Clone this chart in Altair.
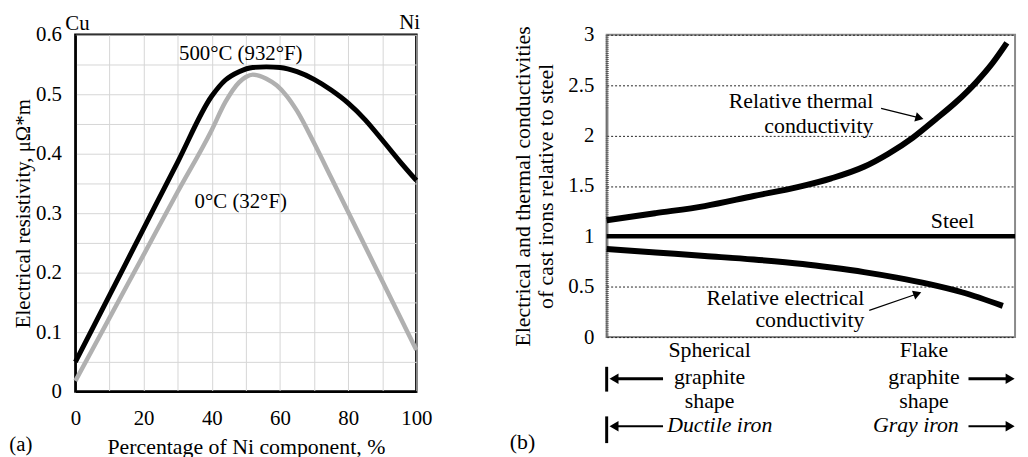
import altair as alt
import pandas as pd

FONT = "Liberation Serif"

# ---------------- Panel (a): electrical resistivity of Cu-Ni alloys ----------------
ni_hot = [0, 10, 20, 30, 40, 44, 48, 52, 56, 60, 65, 70, 75, 80, 85, 90, 95, 100]
rho_hot = [0.05, 0.162, 0.274, 0.386, 0.497, 0.524, 0.538, 0.545, 0.546, 0.545, 0.538,
           0.525, 0.507, 0.485, 0.457, 0.423, 0.388, 0.355]
ni_cold = [0, 10, 20, 30, 40, 44, 48, 50, 52, 54, 56, 59, 62, 65, 70, 75, 80, 85, 90, 95, 100]
rho_cold = [0.018, 0.124, 0.23, 0.336, 0.44, 0.487, 0.52, 0.529, 0.533, 0.531, 0.526,
            0.515, 0.497, 0.472, 0.418, 0.36, 0.302, 0.244, 0.186, 0.128, 0.07]

a_text = ["500°C (932°F)", "0°C (32°F)", "Cu", "Ni", "(a)"]
a_text_x = [48.5, 48.5, 0.6, 98.0, -16.0]
a_text_y = [0.568, 0.318, 0.618, 0.62, -0.09]

x_ticks_a = list(range(0, 101, 10))
y_ticks_a = [round(i * 0.05, 2) for i in range(13)]

# ---------------- Panel (b): conductivities of cast irons relative to steel ----------------
pos_thermal = [0, 12, 24, 36, 47, 55, 63, 69, 75, 80.5, 85.5, 90.5, 94.5, 98]
thermal = [1.16, 1.23, 1.30, 1.40, 1.49, 1.575, 1.69, 1.82, 1.98, 2.16, 2.33, 2.53, 2.72, 2.92]
pos_electrical = [0, 12, 24, 36, 48, 55, 63, 71, 79, 87, 97]
electrical = [0.875, 0.84, 0.805, 0.77, 0.725, 0.69, 0.645, 0.59, 0.525, 0.445, 0.31]
steel_level = [1.0]
y_ticks_b = [0, 0.5, 1, 1.5, 2, 2.5, 3]

b_right_text = ["Relative thermal", "conductivity", "Relative electrical", "conductivity"]
b_right_x = [65.3, 65.3, 63.1, 63.1]
b_right_y = [2.34, 2.09, 0.39, 0.17]

b_center_text = ["Steel", "Spherical", "graphite", "shape", "Flake", "graphite", "shape", "(b)"]
b_center_x = [84.7, 25.2, 25.2, 25.2, 77.7, 77.7, 77.7, -20.6]
b_center_y = [1.15, -0.128, -0.393, -0.639, -0.128, -0.393, -0.639, -1.04]

b_italic_text = ["Ductile iron", "Gray iron"]
b_italic_x = [27.7, 75.7]
b_italic_y = [-0.875, -0.875]

# callout arrows (shaft start -> shaft end, head direction in degrees)
call_x1 = [67.2, 64.3]
call_y1 = [2.27, 0.265]
call_x2 = [76.6, 76.1]
call_y2 = [2.175, 0.43]
call_head_angle = [15, 340]

# range arrows below the plot
rng_x1 = [13.8, 13.8, 88.6, 88.6]
rng_x2 = [1.5, 1.5, 98.5, 98.5]
rng_y = [-0.413, -0.885, -0.413, -0.885]
rng_w = [3, 2, 3, 2]
rng_head_x = [1.8, 1.8, 98.8, 98.8]
rng_head_shape = ["triangle-left", "triangle-left", "triangle-right", "triangle-right"]
bar_y1 = [-0.295, -0.787]
bar_y2 = [-0.541, -1.052]

# ================= build panel (a) =================
hot = pd.DataFrame({"ni": ni_hot, "rho": rho_hot})
cold = pd.DataFrame({"ni": ni_cold, "rho": rho_cold})
atxt = pd.DataFrame({"ni": a_text_x, "rho": a_text_y, "t": a_text})

xa = alt.X("ni:Q", scale=alt.Scale(domain=[0, 100], nice=False),
           axis=alt.Axis(values=x_ticks_a,
                         labelExpr="datum.value % 20 == 0 ? datum.label : ''",
                         title="Percentage of Ni component, %",
                         grid=True, gridColor="#d6d6d6", gridWidth=1,
                         tickSize=0, labelPadding=16, titlePadding=8,
                         labelFlush=False, labelOverlap=False,
                         domainColor="black", domainWidth=2,
                         labelFontSize=21, titleFontSize=22))
ya = alt.Y("rho:Q", scale=alt.Scale(domain=[0, 0.6], nice=False),
           axis=alt.Axis(values=y_ticks_a, format=".1~f",
                         labelExpr="round(datum.value * 100) % 10 == 0 ? datum.label : ''",
                         title="Electrical resistivity, μΩ*m",
                         grid=True, gridColor="#d6d6d6", gridWidth=1,
                         tickSize=0, labelPadding=14, titlePadding=2,
                         labelFlush=False, labelOverlap=False,
                         domainColor="black", domainWidth=2,
                         labelFontSize=21, titleFontSize=21))

cold_line = alt.Chart(cold).mark_line(color="#b0b0b0", strokeWidth=4.5, interpolate="monotone").encode(x=xa, y=ya)
hot_line = alt.Chart(hot).mark_line(color="black", strokeWidth=5, interpolate="monotone").encode(x=xa, y=ya)
a_labels = alt.Chart(atxt).mark_text(font=FONT, fontSize=21, color="black", baseline="middle", align="center").encode(
    x=xa, y=ya, text="t:N")

panel_a = alt.layer(cold_line, hot_line, a_labels).properties(
    width=344, height=360,
    view=alt.ViewBackground(stroke="black", strokeWidth=2.5))

# ================= build panel (b) =================
xb = alt.X("pos:Q", scale=alt.Scale(domain=[0, 100], nice=False), axis=None)
yb = alt.Y("val:Q", scale=alt.Scale(domain=[0, 3], nice=False),
           axis=alt.Axis(values=y_ticks_b, format=".1~f",
                         title=["Electrical and thermal conductivities", "of cast irons relative to steel"],
                         titleLineHeight=24, titlePadding=10,
                         grid=True, gridDash=[2, 2], gridColor="#222", gridWidth=1,
                         tickSize=0, labelPadding=13, labelFlush=False, labelOverlap=False,
                         domainColor="#555", domainDash=[1, 1], domainWidth=3,
                         labelFontSize=21, titleFontSize=22))

th = pd.DataFrame({"pos": pos_thermal, "val": thermal})
el = pd.DataFrame({"pos": pos_electrical, "val": electrical})
st = pd.DataFrame({"val": steel_level})

steel = alt.Chart(st).mark_rule(color="black", strokeWidth=4.5).encode(y=yb)
th_line = alt.Chart(th).mark_line(color="black", strokeWidth=6, interpolate="monotone").encode(x=xb, y=yb)
el_line = alt.Chart(el).mark_line(color="black", strokeWidth=6, interpolate="monotone").encode(x=xb, y=yb)

rt = pd.DataFrame({"pos": b_right_x, "val": b_right_y, "t": b_right_text})
ct = pd.DataFrame({"pos": b_center_x, "val": b_center_y, "t": b_center_text})
it = pd.DataFrame({"pos": b_italic_x, "val": b_italic_y, "t": b_italic_text})

txt_right = alt.Chart(rt).mark_text(font=FONT, fontSize=22, align="right", baseline="middle", color="black").encode(
    x=xb, y=yb, text="t:N")
txt_center = alt.Chart(ct).mark_text(font=FONT, fontSize=22, align="center", baseline="middle", color="black").encode(
    x=xb, y=yb, text="t:N")
txt_italic = alt.Chart(it).mark_text(font=FONT, fontSize=22, fontStyle="italic", align="center", baseline="middle",
                                     color="black").encode(x=xb, y=yb, text="t:N")

call = pd.DataFrame({"pos": call_x1, "val": call_y1, "pos2": call_x2, "val2": call_y2,
                     "ang": call_head_angle})
call_shaft = alt.Chart(call).mark_rule(color="black", strokeWidth=1.2).encode(
    x=xb, y=yb, x2="pos2:Q", y2="val2:Q")
call_head = alt.Chart(call).mark_point(shape="triangle-right", filled=True, color="black", size=90, opacity=1).encode(
    x=alt.X("pos2:Q", scale=alt.Scale(domain=[0, 100], nice=False), axis=None),
    y=alt.Y("val2:Q", scale=alt.Scale(domain=[0, 3], nice=False)),
    angle=alt.Angle("ang:Q", scale=None))

rng = pd.DataFrame({"pos": rng_x1, "pos2": rng_x2, "val": rng_y, "w": rng_w,
                    "hx": rng_head_x, "shape": rng_head_shape})
rng_shaft = alt.Chart(rng).mark_rule(color="black").encode(
    x=xb, x2="pos2:Q", y=yb, strokeWidth=alt.StrokeWidth("w:Q", scale=None, legend=None))
rng_head = alt.Chart(rng).mark_point(filled=True, color="black", size=110, opacity=1).encode(
    x=alt.X("hx:Q", scale=alt.Scale(domain=[0, 100], nice=False), axis=None),
    y=yb,
    shape=alt.Shape("shape:N", scale=None, legend=None))

bars = pd.DataFrame({"pos": [0, 0], "val": bar_y1, "val2": bar_y2})
rng_bar = alt.Chart(bars).mark_rule(color="black", strokeWidth=3).encode(x=xb, y=yb, y2="val2:Q")

panel_b = alt.layer(th_line, el_line, steel, txt_right, txt_center, txt_italic,
                    call_shaft, call_head, rng_shaft, rng_head, rng_bar).properties(
    width=412, height=305,
    view=alt.ViewBackground(stroke="#8a8a8a", strokeWidth=2))

chart = alt.hconcat(panel_a, panel_b, spacing=192, bounds="flush").properties(
    padding={"left": 0, "top": 0, "right": 0, "bottom": 0}
).configure_axis(
    labelFont=FONT, titleFont=FONT, labelColor="black", titleColor="black", titleFontWeight="normal"
).configure_text(font=FONT)

chart.save("out.html", embed_options={"renderer": "svg", "actions": False})
